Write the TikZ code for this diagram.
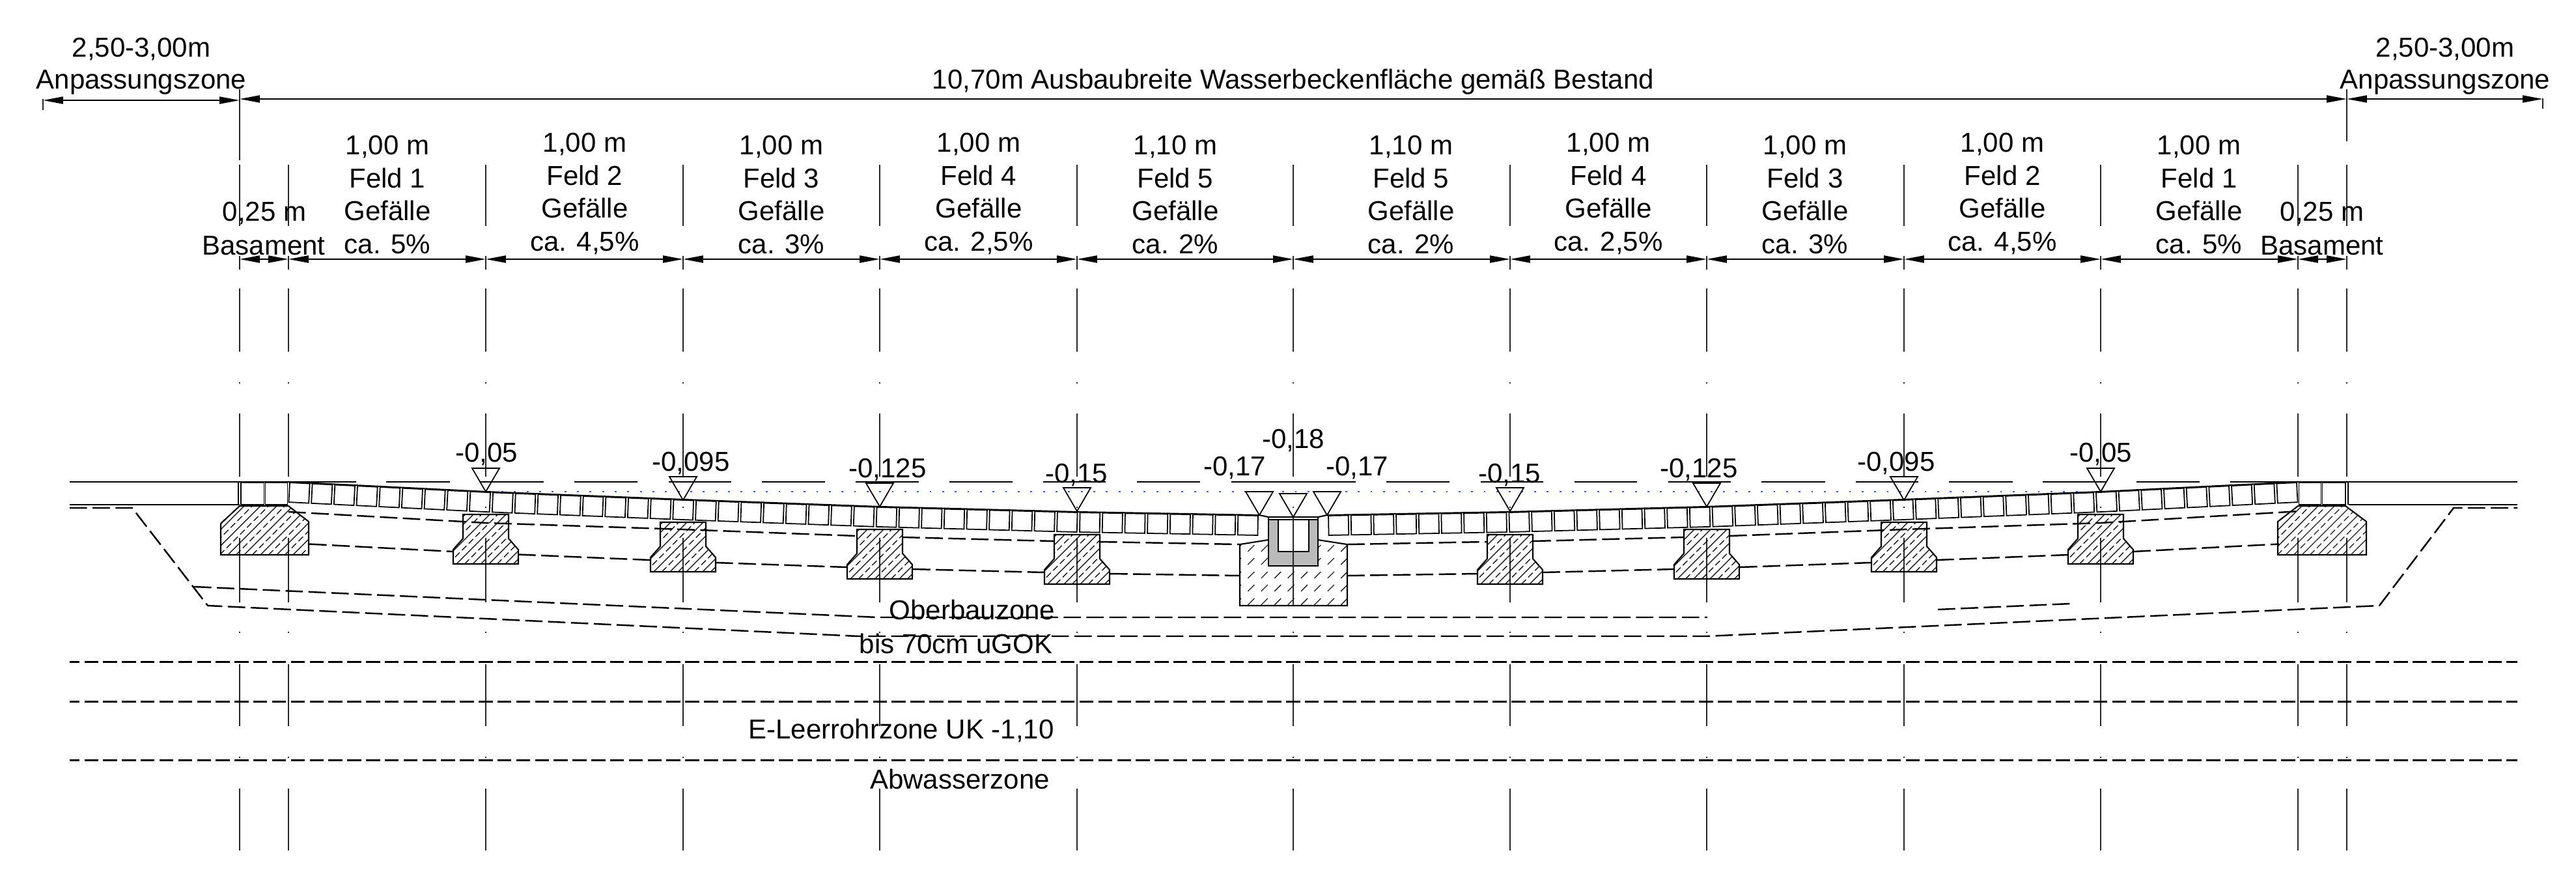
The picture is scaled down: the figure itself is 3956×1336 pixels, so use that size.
\documentclass[tikz,border=0pt]{standalone}
\usepackage{fontspec}
\setmainfont{Liberation Sans}
\usetikzlibrary{arrows.meta}
\definecolor{bluedot}{RGB}{50,90,240}
\definecolor{boxgray}{RGB}{186,186,186}
\tikzset{
  axisline/.style={line width=0.42pt,black!85},
  ground/.style={line width=0.6pt},
  dimline/.style={line width=0.65pt,{Triangle[length=8.8pt,width=3.1pt]}-{Triangle[length=8.8pt,width=3.1pt]}},
  zonedash/.style={line width=0.7pt,dash pattern=on 7.6pt off 2.4pt},
  longdash/.style={line width=0.7pt,dash pattern=on 6.1pt off 2.1pt,dash phase=1.8pt},
  wall/.style={line width=0.6pt},
  paver/.style={line width=0.5pt},
  hatchthin/.style={line width=0.32pt},
  hatchdash/.style={line width=0.32pt,dash pattern=on 2.8pt off 1.4pt},
  lab/.style={font=\fontsize{11.95}{14}\selectfont,anchor=base,inner sep=0pt},
  level/.style={line width=0.5pt}
}
\pgfmathdeclarefunction{paveTop}{1}{%
  \pgfmathparse{#1<746 ? 740+(#1-443)*0.0495 : (#1<1049 ? 755+(#1-746)*0.0396 : (#1<1351 ? 767+(#1-1049)*0.0364 : (#1<1654 ? 778+(#1-1351)*0.0264 : 786+(#1-1654)*0.01786)))}%
}
\newcommand{\paverrow}{%
  \foreach \i in {0,...,42}{
    \pgfmathsetmacro\xa{443+34.674*\i+2}
    \pgfmathsetmacro\xb{443+34.674*(\i+1)-2}
    \pgfmathsetmacro\ya{paveTop(\xa)}
    \pgfmathsetmacro\yb{paveTop(\xb)}
    \pgfmathsetmacro\sl{(\yb-\ya)/(\xb-\xa)*31}
    \draw[paver] (\xa,\ya+1) -- (\xb,\yb+1) -- (\xb-\sl,\yb+31) -- (\xa-\sl,\ya+31) -- cycle;
  }
  \draw[paver] (366,740) -- (366,775) (370,741) rectangle (405.5,775) (407.6,741) rectangle (441.5,775);
  \draw[ground] (443,740) -- (746,755) -- (1049,767) -- (1351,778) -- (1654,786) -- (1934,791) -- (1948,794) -- (1986,794);
}
\newcommand{\hatchfill}[4]{% path, x start, count, bottom y
  \begin{scope}
    \clip #1;
    \foreach \k in {0,...,#3}{
      \pgfmathsetmacro\xx{#2+25*\k}
      \pgfmathsetmacro\xz{#2+12.5+25*\k}
      \draw[hatchthin] (\xx,#4) -- ++(120,-120);
      \draw[hatchdash] (\xz,#4) -- ++(120,-120);
    }
  \end{scope}
}
\newcommand{\footing}[2]{% axis x, top y
  \pgfmathsetmacro\fl{#1-35}\pgfmathsetmacro\fr{#1+35}
  \pgfmathsetmacro\bl{#1-50}\pgfmathsetmacro\br{#1+50}
  \pgfmathsetmacro\ne{#2+37}\pgfmathsetmacro\fa{#2+54}\pgfmathsetmacro\bo{#2+76}
  \pgfmathsetmacro\hs{#1-170}
  \hatchfill{(\fl,#2) -- (\fr,#2) -- (\fr,\ne) -- (\br,\fa) -- (\br,\bo) -- (\bl,\bo) -- (\bl,\fa) -- (\fl,\ne) -- cycle}{\hs}{10}{\bo}
  \draw[wall] (\fl,#2) -- (\fr,#2) -- (\fr,\ne) -- (\br,\fa) -- (\br,\bo) -- (\bl,\bo) -- (\bl,\fa) -- (\fl,\ne) -- cycle;
}
\newcommand{\fieldlab}[6]{%
  \pgfmathsetmacro\yb{#3}\pgfmathsetmacro\yc{#3+51}\pgfmathsetmacro\yd{#3+101}\pgfmathsetmacro\ye{#3+152}
  \node[lab] (#1a) at (#2,\yb) {#4};
  \node[lab] (#1b) at (#2,\yc) {#5};
  \node[lab] (#1c) at (#2,\yd) {Gefälle};
  \node[lab] (#1d) at (#2,\ye) {#6};
}
\newcommand{\levelmark}[3]{%
  \pgfmathsetmacro\tl{#2-21}\pgfmathsetmacro\tr{#2+21}\pgfmathsetmacro\ty{#3+36}
  \draw[level] (\tl,#3) -- (\tr,#3) -- (#2,\ty) -- cycle;
}
\begin{document}
\begin{tikzpicture}[x=0.01cm,y=-0.01cm]
\useasboundingbox (0,0) rectangle (3956,1336);

% axes
\foreach \x in {368,443,746,1049,1351,1654,1986,2319,2621,2924,3226,3529,3604}{
  \draw[axisline] (\x,253) -- (\x,347) (\x,393) -- (\x,414) (\x,443) -- (\x,540) (\x,635) -- (\x,732);
  \draw[axisline] (\x,1020) -- (\x,1115) (\x,1211) -- (\x,1306);
  \draw[axisline] (\x,587) -- (\x,589) (\x,970) -- (\x,972) (\x,1162) -- (\x,1164);
}
\foreach \x in {368,443,746,1049,1351,1654,2319,2621,2924,3226,3529,3604}{
  \draw[axisline] (\x,826) -- (\x,925);
}
\foreach \x in {746,1049,1654,1986,2319,2924,3226}{
  \draw[axisline] (\x,778) -- (\x,780);
}
\draw[axisline] (368,137) -- (368,246) (3604,137) -- (3604,217);
\draw[axisline] (66,152) -- (66,169) (3905,151) -- (3905,167);

% dimension chains
\coordinate (tl) at (66,154); \coordinate (ta) at (368,154);
\coordinate (tb) at (368,152); \coordinate (tc) at (3604,152);
\coordinate (td) at (3604,152); \coordinate (te) at (3905,152);
\draw[dimline] (tl) -- (ta);
\draw[dimline] (tb) -- (tc);
\draw[dimline] (td) -- (te);
\foreach \p/\q in {368/443,443/746,746/1049,1049/1351,1351/1654,1654/1986,1986/2319,2319/2621,2621/2924,2924/3226,3226/3529,3529/3604}{
  \coordinate (dp\p) at (\p,398); \coordinate (dq\q) at (\q,398);
  \draw[dimline] (dp\p) -- (dq\q);
}

% ground line
\draw[ground] (107,740) -- (547,740);
\foreach \a/\b in {593/691,737/835,882/979,1027/1123,1170/1267,1314/1411,1458/1555,1602/1698,1746/1843,1891/2082,2129/2226,2274/2370,2418/2514,2562/2658,2705/2803,2850/2946,2993/3091,3137/3235,3281/3378}{
  \draw[ground] (\a,740) -- (\b,740);
}
\draw[ground] (3425,740) -- (3866,740);
\draw[line width=0.8pt] (107,775) -- (368,775) (3607,775) -- (3866,775);

% blue dotted level
\draw[bluedot,line width=0.6pt,dash pattern=on 0.8pt off 4.7pt] (770,755) -- (3204,755);

% footings
\footing{746}{790}
\footing{1049}{802}
\footing{1351}{813}
\footing{1654}{821}
\footing{2319}{821}
\footing{2621}{813}
\footing{2924}{802}
\footing{3226}{790}
\hatchfill{(368,777) -- (443,777) -- (474,801) -- (474,852) -- (339,852) -- (339,804) -- cycle}{225}{14}{852}
\draw[wall] (368,777) -- (443,777) -- (474,801) -- (474,852) -- (339,852) -- (339,804) -- cycle;
\hatchfill{(3529,777) -- (3602,777) -- (3634,801) -- (3634,852) -- (3498,852) -- (3498,801) -- cycle}{3385}{14}{852}
\draw[wall] (3529,777) -- (3602,777) -- (3634,801) -- (3634,852) -- (3498,852) -- (3498,801) -- cycle;

% zone dashed lines
\draw[zonedash] (107,780) -- (203,780) -- (319,930) -- (1318,977) -- (2621,977) -- (3654,930) -- (3768,780) -- (3866,780);
\draw[zonedash] (298,901) -- (1348,948) -- (2622,948);
\draw[zonedash] (2976,936) -- (3180,927);
\draw[zonedash] (443,786) -- (746,803) -- (1049,813) -- (1316,823);
\draw[zonedash] (1386,825) -- (1618,831);
\draw[zonedash] (1689,832) -- (1904,836);
\draw[zonedash] (2069,836) -- (2283,832);
\draw[zonedash] (2355,831) -- (2586,825);
\draw[zonedash] (2656,823) -- (2924,813) -- (3226,803) -- (3532,785);
\draw[zonedash] (475,835.5) -- (696,847);
\draw[zonedash] (796,851.5) -- (998,860);
\draw[zonedash] (1099,864) -- (1300,871);
\draw[zonedash] (1402,874) -- (1604,879);
\draw[zonedash] (1705,881) -- (1904,884);
\draw[zonedash] (2069,884) -- (2268,881);
\draw[zonedash] (2369,879) -- (2572,874);
\draw[zonedash] (2672,871) -- (2873,864);
\draw[zonedash] (2974,860) -- (3176,852);
\draw[zonedash] (3276,847) -- (3500,835.5);
\draw[longdash] (107,1016.5) -- (3866,1016.5);
\draw[longdash] (107,1077.5) -- (3866,1077.5);
\draw[longdash] (107,1167.5) -- (3866,1167.5);

% pavers
\paverrow
\begin{scope}[shift={(3972,0)},xscale=-1]
\paverrow
\end{scope}

% centre channel
\begin{scope}
  \clip (1904,836) -- (1948,829) -- (2024,829) -- (2069,836) -- (2069,930) -- (1904,930) -- cycle;
  \foreach \r in {842,862,883,903,924}{
    \foreach \k in {0,...,8}{
      \pgfmathsetmacro\xx{1901+20.4*\k}
      \draw[hatchthin] (\xx-5,\r+5) -- (\xx+5,\r-5);
    }
  }
\end{scope}
\draw[wall] (1948,829) -- (1904,836) -- (1904,930) -- (2069,930) -- (2069,836) -- (2024,829);
\draw[wall,fill=boxgray] (1948,798) rectangle (2024,869);
\draw[wall,fill=white] (1963,798) -- (1963,847) -- (2010,847) -- (2010,798);
\draw[paver,fill=white] (1948,794) rectangle (2024,798);
\draw[axisline] (1986,793) -- (1986,930);

% level marks
\levelmark{a}{746}{719}
\levelmark{b}{1049}{732}
\levelmark{c}{1351}{742}
\levelmark{d}{1654}{749}
\levelmark{e}{1934}{755}
\levelmark{f}{1986}{758}
\levelmark{g}{2038}{755}
\levelmark{h}{2319}{749}
\levelmark{i}{2621}{742}
\levelmark{j}{2924}{732}
\levelmark{k}{3226}{719}

% top labels
\node[lab] (zl1) at (217,87) {2,50-3,00m};
\node[lab] (zl2) at (217,136) {Anpassungszone};
\node[lab] (zr1) at (3755,87) {2,50-3,00m};
\node[lab] (zr2) at (3755,136) {Anpassungszone};
\node[lab] (title) at (1986,136) {10,70m Ausbaubreite Wasserbeckenfläche gemäß Bestand};
\node[lab] (bl1) at (406,339) {0,25 m};
\node[lab] (bl2) at (405,391) {Basament};
\node[lab] (br1) at (3566,339) {0,25 m};
\node[lab] (br2) at (3566,391) {Basament};

\fieldlab{fa}{595}{237}{1,00 m}{Feld 1}{ca. 5\%}
\fieldlab{fb}{898}{233}{1,00 m}{Feld 2}{ca. 4,5\%}
\fieldlab{fc}{1200}{237}{1,00 m}{Feld 3}{ca. 3\%}
\fieldlab{fd}{1503}{233}{1,00 m}{Feld 4}{ca. 2,5\%}
\fieldlab{fe}{1805}{237}{1,10 m}{Feld 5}{ca. 2\%}
\fieldlab{ff}{2167}{237}{1,10 m}{Feld 5}{ca. 2\%}
\fieldlab{fg}{2470}{233}{1,00 m}{Feld 4}{ca. 2,5\%}
\fieldlab{fh}{2772}{237}{1,00 m}{Feld 3}{ca. 3\%}
\fieldlab{fi}{3075}{233}{1,00 m}{Feld 2}{ca. 4,5\%}
\fieldlab{fj}{3377}{237}{1,00 m}{Feld 1}{ca. 5\%}

% level labels
\node[lab] (la) at (747,709) {-0,05};
\node[lab] (lb) at (1061,723) {-0,095};
\node[lab] (lc) at (1363,733) {-0,125};
\node[lab] (ld) at (1653,741) {-0,15};
\node[lab] (le) at (1896,730) {-0,17};
\node[lab] (lf) at (1986,688) {-0,18};
\node[lab] (lg) at (2084,730) {-0,17};
\node[lab] (lh) at (2318,741) {-0,15};
\node[lab] (li) at (2609,733) {-0,125};
\node[lab] (lj) at (2912,723) {-0,095};
\node[lab] (lk) at (3226,709) {-0,05};

% zone labels
\node[lab] (zo1) at (1493,951) {Oberbauzone};
\node[lab] (zo2) at (1468,1003) {bis 70cm uGOK};
\node[lab] (zo3) at (1384,1134) {E-Leerrohrzone UK -1,10};
\node[lab] (zo4) at (1474,1211) {Abwasserzone};
\end{tikzpicture}
\end{document}
